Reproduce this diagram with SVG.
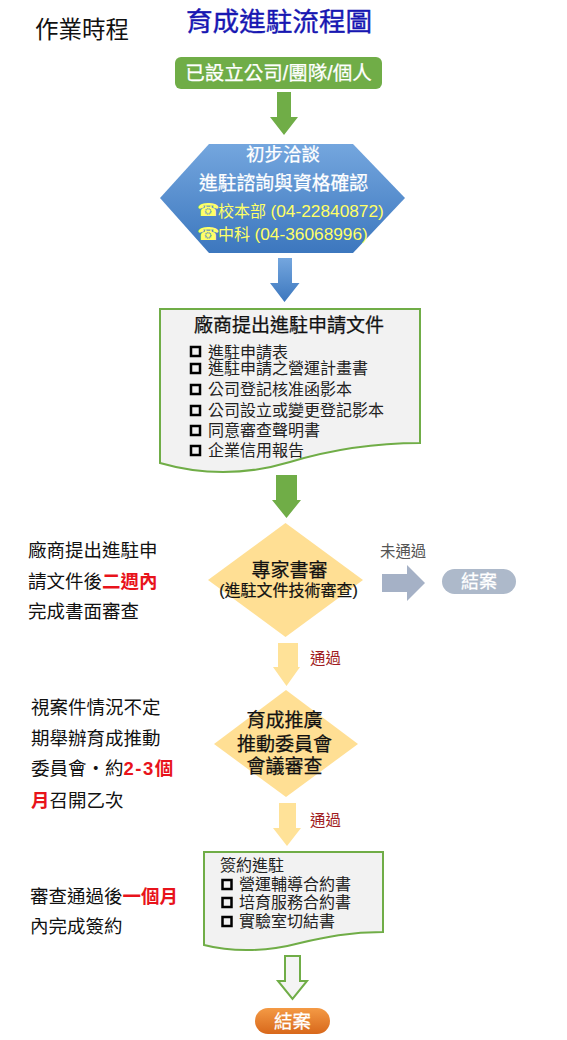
<svg xmlns="http://www.w3.org/2000/svg" width="567" height="1040" viewBox="0 0 567 1040">
<style>
text{font-family:"Liberation Sans","Noto Sans CJK TC",sans-serif}
.doc{fill:#f2f2f2;stroke:#70ad47;stroke-width:2}
.dia{fill:#ffdf94}
.cb{fill:none;stroke:#000;stroke-width:2.500}
.t16{font-size:16px;fill:#222}
.t19{font-size:19px;fill:#111;text-anchor:middle;stroke:#111;stroke-width:.25}
.w{fill:#fff;text-anchor:middle;stroke:#fff;stroke-width:.25}
.y{fill:#ffff66;font-size:16px}
.n{font-size:17.300px}
.l{font-size:18.500px;fill:#111}
.r{fill:#e8131b;font-weight:700}
.pass{font-size:15.400px;fill:#a01c22}
</style>
<defs>
<linearGradient id="bl" x1="0" y1="0" x2="0" y2="1"><stop offset="0" stop-color="#74a6de"/><stop offset="1" stop-color="#3c77be"/></linearGradient>
<linearGradient id="or" x1="0" y1="0" x2="0" y2="1"><stop offset="0" stop-color="#f49a45"/><stop offset="1" stop-color="#d8681b"/></linearGradient>
</defs>
<rect width="567" height="1040" fill="#fff"/>
<g id="connectors">
<polygon fill="#70ad47" points="277,92 291,92 291,117 298,117 284,135 270,117 277,117"/>
<polygon fill="url(#bl)" points="278,258 292,258 292,283 299.500,283 284.500,302 270,283 278,283"/>
<polygon fill="#70ad47" points="276,475 297,475 297,500 301,500 286.500,518 272,500 276,500"/>
<polygon fill="#a5b1c6" points="382,574 407,574 407,565 425,583 407,601 407,592 382,592"/>
<polygon fill="#ffe298" points="278,643 298,643 298,667 300,667 286.500,686 273,667 278,667"/>
<polygon fill="#ffe298" points="279,803 296,803 296,828 301,828 287,846 273,828 279,828"/>
<polygon fill="#f4f4f4" stroke="#70ad47" stroke-width="2" points="285,956 300,956 300,981 307,981 292.500,999 278,981 285,981"/>
<text x="380" y="556.500" font-size="15.400" fill="#555">未通過</text>
<text x="310" y="663.500" class="pass">通過</text>
<text x="310" y="825.500" class="pass">通過</text>
</g>
<g id="labels">
<text x="35" y="38" font-size="23.500" fill="#111">作業時程</text>
<text x="186" y="31" font-size="26.600" fill="#1717b2" stroke="#1717b2" stroke-width=".4">育成進駐流程圖</text>
<text x="28" y="557" class="l">廠商提出進駐申</text>
<text x="28" y="588" class="l">請文件後<tspan class="r">二週內</tspan></text>
<text x="28" y="618" class="l">完成書面審查</text>
<text x="31" y="714" class="l">視案件情況不定</text>
<text x="31" y="745" class="l">期舉辦育成推動</text>
<text x="31" y="775" class="l">委員會‧約<tspan class="r" letter-spacing="1.500">2-3</tspan><tspan class="r">個</tspan></text>
<text x="31" y="807" class="l"><tspan class="r">月</tspan>召開乙次</text>
<text x="30" y="903" class="l">審查通過後<tspan class="r">一個月</tspan></text>
<text x="30" y="933" class="l">內完成簽約</text>
</g>
<g id="start">
<rect x="175" y="57" width="207" height="32" rx="6" fill="#70ad47"/>
<text x="278.500" y="80" class="w" font-size="19.500">已設立公司/團隊/個人</text>
</g>
<g id="consult">
<polygon fill="url(#bl)" points="209,144 353,144 405,198 353,253 209,253 160,198"/>
<text x="283" y="161" class="w" font-size="18.500">初步洽談</text>
<text x="283.500" y="190" class="w" font-size="18.800">進駐諮詢與資格確認</text>
<text x="197" y="216" font-size="18" style="fill:#ffff66;font-family:'DejaVu Sans',sans-serif">☎</text>
<text x="218" y="217" class="y">校本部 <tspan class="n">(04-22840872)</tspan></text>
<text x="197" y="240" font-size="18" style="fill:#ffff66;font-family:'DejaVu Sans',sans-serif">☎</text>
<text x="218" y="240" class="y">中科 <tspan class="n">(04-36068996)</tspan></text>
</g>
<g id="apply">
<path class="doc" d="M160,309H420V443C370,443 330,450 290,462C250,474 205,476 160,463Z"/>
<text x="289" y="332" class="t19">廠商提出進駐申請文件</text>
<rect class="cb" x="191" y="347" width="9" height="9"/><text x="208" y="358" class="t16">進駐申請表</text>
<rect class="cb" x="191" y="364" width="9" height="9"/><text x="208" y="374" class="t16">進駐申請之營運計畫書</text>
<rect class="cb" x="191" y="385" width="9" height="9"/><text x="208" y="395" class="t16">公司登記核准函影本</text>
<rect class="cb" x="191" y="406" width="9" height="9"/><text x="208" y="416" class="t16">公司設立或變更登記影本</text>
<rect class="cb" x="191" y="426" width="9" height="9"/><text x="208" y="436" class="t16">同意審查聲明書</text>
<rect class="cb" x="191" y="446" width="9" height="9"/><text x="208" y="456" class="t16">企業信用報告</text>
</g>
<g id="review">
<polygon class="dia" points="285.500,523 363,580 285.500,637 208,580"/>
<text x="289.500" y="577" class="t19">專家書審</text>
<text x="288.500" y="596" font-size="16" fill="#111" text-anchor="middle" stroke="#111" stroke-width=".2">(進駐文件技術審查)</text>
</g>
<g id="closed">
<rect x="442" y="569" width="74" height="25" rx="12.500" fill="#adb9ca"/>
<text x="479" y="588" class="w" font-size="18">結案</text>
</g>
<g id="committee">
<polygon class="dia" points="286,690 358,744 286,797 214,744"/>
<text x="284.500" y="727" class="t19">育成推廣</text>
<text x="284.500" y="751" class="t19">推動委員會</text>
<text x="284.500" y="773" class="t19">會議審查</text>
</g>
<g id="sign">
<path class="doc" d="M204,852H383V932C350,932 325,937 300,943C270,951 235,953 204,945Z"/>
<text x="220" y="871" class="t16">簽約進駐</text>
<rect class="cb" x="222.500" y="880" width="9" height="9"/><text x="239" y="890" class="t16">營運輔導合約書</text>
<rect class="cb" x="222.500" y="898" width="9" height="9"/><text x="239" y="908" class="t16">培育服務合約書</text>
<rect class="cb" x="222.500" y="917" width="9" height="9"/><text x="239" y="927" class="t16">實驗室切結書</text>
</g>
<g id="end">
<rect x="255" y="1008" width="75" height="26" rx="13" fill="url(#or)"/>
<text x="292.500" y="1028" class="w" font-size="18.500">結案</text>
</g>
</svg>
